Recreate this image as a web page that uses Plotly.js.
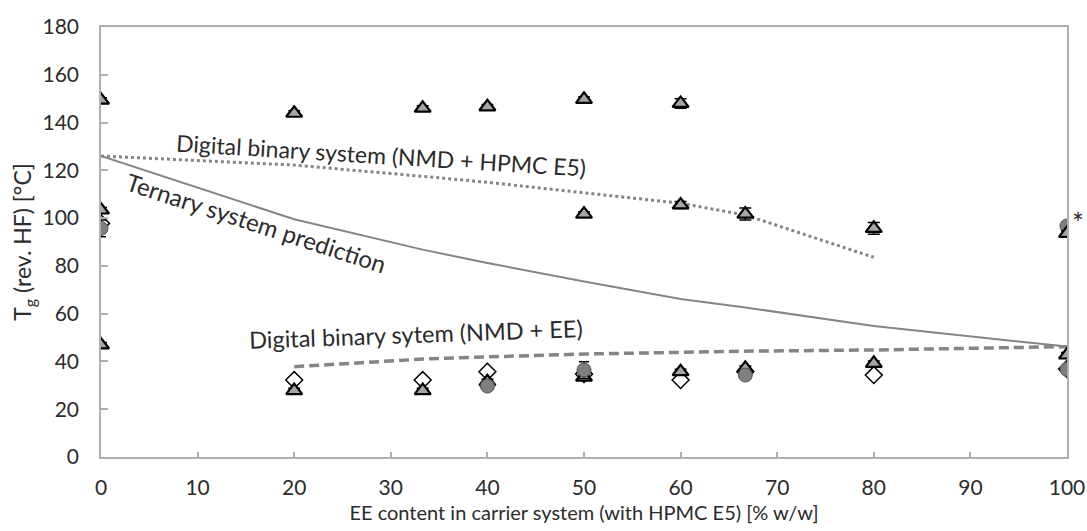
<!DOCTYPE html>
<html>
<head>
<meta charset="utf-8">
<script src="https://cdn.plot.ly/plotly-3.0.1.min.js"></script>
<style>html,body{margin:0;padding:0;background:#fff;}#chart{width:1087px;height:531px;}</style>
</head>
<body>
<div id="chart"></div>
<script>
// Curves
const hpmcX = [0, 20, 33.3, 40, 50, 60, 66.7, 80];
const hpmcY = [126, 122.2, 117.5, 115, 110.6, 106.2, 101.3, 83.6];
const ternX = [0, 20, 33.3, 40, 50, 60, 66.7, 80, 100];
const ternY = [126, 99.5, 86.8, 81.2, 73.5, 66.1, 62.6, 54.8, 46.2];
const eeX = [20, 33.3, 40, 50, 60, 66.7, 80, 100];
const eeY = [37.8, 41.0, 41.9, 43.1, 43.8, 44.3, 44.8, 46.2];

// Measured points
const triUpX = [0, 20, 33.3, 40, 50, 60];
const triUpY = [149.4, 143.9, 146, 146.6, 149.7, 148];
const triUpErr = [1, 1, 1, 1, 1, 2];
const triMidX = [0, 50, 60, 66.7, 80, 100];
const triMidY = [103.4, 101.7, 105.5, 101.7, 95.7, 93.6];
const triMidErr = [1, 1, 1.5, 2.5, 2.5, 1];
const triLowX = [0, 20, 33.3, 40, 50, 60, 66.7, 80, 100];
const triLowY = [46.9, 27.8, 27.8, 31.5, 33.4, 35.7, 37.1, 39.2, 42.7];
const triLowErr = [1, 1, 1, 1, 1, 1, 1, 1, 1];
const circX = [0, 40, 50, 66.7, 100];
const circY = [95.7, 29.7, 36.4, 34.3, 96.7];
const circErr = [3.5, 1, 3.5, 1, 1];
const circX2 = [100];
const circY2 = [36.7];
const diaX = [0, 20, 33.3, 40, 50, 60, 66.7, 80, 100];
const diaY = [97.8, 32.2, 32.2, 35.7, 34.7, 32.2, 35.7, 34.3, 36.8];

const xTicks = [0, 10, 20, 30, 40, 50, 60, 70, 80, 90, 100];
const yTicks = [0, 20, 40, 60, 80, 100, 120, 140, 160, 180];

const lineCol = '#858585';
const triMarker = {symbol: 'triangle-up', size: 14, color: '#a6a6a6', line: {color: '#000', width: 2.2}};
const errStyle = {type: 'data', color: '#000', thickness: 1.5, width: 6};
const traces = [
  {x: hpmcX, y: hpmcY, mode: 'lines', line: {color: lineCol, width: 3, dash: 'dot'}},
  {x: ternX, y: ternY, mode: 'lines', line: {color: lineCol, width: 2}},
  {x: eeX, y: eeY, mode: 'lines', line: {color: lineCol, width: 3.5, dash: '10px,5px'}},
  {x: diaX, y: diaY, mode: 'markers', marker: {symbol: 'diamond', size: 13, color: '#ffffff', line: {color: '#000', width: 1.5}}},
  {x: triLowX, y: triLowY, mode: 'markers', error_y: Object.assign({array: triLowErr}, errStyle), marker: triMarker},
  {x: circX, y: circY, mode: 'markers', error_y: {type: 'data', array: circErr, color: '#000', thickness: 1.5, width: 5},
   marker: {symbol: 'circle', size: 14, color: '#7f7f7f', line: {color: '#555', width: 1}}},
  {x: circX2, y: circY2, mode: 'markers', marker: {symbol: 'circle', size: 14, color: '#7f7f7f', line: {color: '#555', width: 1}}},
  {x: triUpX, y: triUpY, mode: 'markers', error_y: Object.assign({array: triUpErr}, errStyle), marker: triMarker},
  {x: triMidX, y: triMidY, mode: 'markers', error_y: Object.assign({array: triMidErr}, errStyle), marker: triMarker}
];

const fontFam = 'Lato, "Open Sans", sans-serif';
const txtCol = '#2b2b2b';
const layout = {
  width: 1087, height: 531,
  margin: {l: 101, r: 20, t: 27, b: 74},
  paper_bgcolor: '#fff', plot_bgcolor: '#fff',
  showlegend: false,
  font: {family: fontFam, size: 21, color: txtCol},
  xaxis: {
    range: [0, 100], tickvals: xTicks, ticktext: xTicks.map(String),
    showgrid: false, zeroline: false, showline: true, linecolor: '#b0b0b0', linewidth: 1.5, mirror: true,
    ticks: 'inside', ticklen: 5, tickcolor: '#b0b0b0', tickwidth: 1.5, ticklabelstandoff: 11,
    tickfont: {size: 21, color: txtCol},
    title: {text: 'EE content in carrier system (with HPMC E5) [% w/w]', font: {size: 20, color: txtCol}, standoff: 8}
  },
  yaxis: {
    range: [0, 180], tickvals: yTicks, ticktext: yTicks.map(String),
    showgrid: false, zeroline: false, showline: true, linecolor: '#b0b0b0', linewidth: 1.5, mirror: true,
    ticks: 'inside', ticklen: 7, tickcolor: '#b0b0b0', tickwidth: 1.5, ticklabelstandoff: 16,
    tickfont: {size: 21, color: txtCol},
    title: {text: 'T<sub>g</sub> (rev. HF) [°C]', font: {size: 23, color: txtCol}, standoff: 4}
  },
  annotations: [
    {x: 381, y: 155, text: 'Digital binary system (NMD + HPMC E5)', textangle: 3.5, size: 23},
    {x: 256, y: 222, text: 'Ternary system prediction', textangle: 18, size: 24},
    {x: 416, y: 334, text: 'Digital binary sytem (NMD + EE)', textangle: -2, size: 23.5},
    {x: 1078, y: 223, text: '*', textangle: 0, size: 28}
  ]
};
// convert pixel-placed annotations to paper coordinates
const pl = 101, pb = 531 - 74;
const pw = 1087 - 101 - 20, ph = 531 - 27 - 74;
layout.annotations.forEach(a => {
  a.x = (a.x - pl) / pw; a.y = (pb - a.y) / ph;
  a.xref = 'paper'; a.yref = 'paper'; a.showarrow = false;
  a.xanchor = 'center'; a.yanchor = 'middle';
  a.font = {size: a.size, color: txtCol, family: fontFam};
  delete a.size;
});

Plotly.newPlot('chart', traces, layout, {displayModeBar: false});
</script>
</body>
</html>
